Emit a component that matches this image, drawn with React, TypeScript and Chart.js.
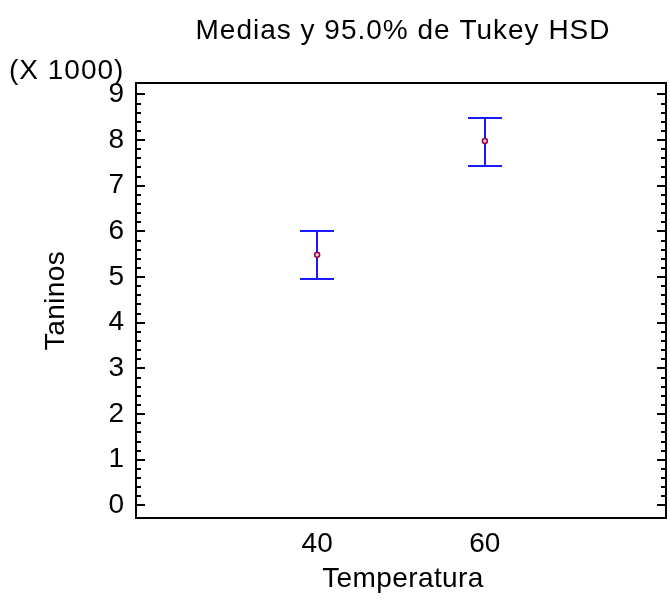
import React, { useEffect, useRef } from "react";
import { Chart, registerables } from "chart.js";

Chart.register(...registerables);

// ---- data ----
const categories = [40, 60];
const means = [5490, 7980];
const lowerLimits = [4950, 7440];
const upperLimits = [6020, 8480];
const yMajorTicks = [0, 1000, 2000, 3000, 4000, 5000, 6000, 7000, 8000, 9000];
const xTickValues = [40, 60];
const titleText = "Medias y 95.0% de Tukey HSD";
const yScaleNote = "(X 1000)";
const xTitleText = "Temperatura";
const yTitleText = "Taninos";

const FONT = "'Liberation Sans', Arial, Helvetica, sans-serif";
const FONT_SIZE = 28;

const decorPlugin = {
  id: "decor",
  beforeDatasetsDraw(chart: any) {
    const { ctx, scales } = chart;
    const x = scales.x;
    const y = scales.y;
    ctx.save();
    ctx.strokeStyle = "#1a1aff";
    ctx.lineWidth = 2;
    categories.forEach((c, i) => {
      const px = Math.round(x.getPixelForValue(c));
      const top = Math.round(y.getPixelForValue(upperLimits[i]));
      const bot = Math.round(y.getPixelForValue(lowerLimits[i]));
      ctx.beginPath();
      ctx.moveTo(px, top);
      ctx.lineTo(px, bot);
      ctx.moveTo(px - 17, top);
      ctx.lineTo(px + 17, top);
      ctx.moveTo(px - 17, bot);
      ctx.lineTo(px + 17, bot);
      ctx.stroke();
    });
    ctx.restore();
  },
  afterDraw(chart: any) {
    const { ctx, chartArea, scales } = chart;
    const y = scales.y;
    const { left, right, top, bottom } = chartArea;
    ctx.save();
    // frame
    ctx.strokeStyle = "#000";
    ctx.lineWidth = 2;
    ctx.strokeRect(left, top, right - left, bottom - top);
    // y ticks (inward, both sides)
    const minorStep = 200;
    const last = yMajorTicks[yMajorTicks.length - 1];
    ctx.beginPath();
    for (let v = yMajorTicks[0]; v <= last + 1e-6; v += minorStep) {
      const isMajor = yMajorTicks.indexOf(v) >= 0;
      const len = isMajor ? 9 : 5;
      const py = Math.round(y.getPixelForValue(v));
      ctx.moveTo(left, py);
      ctx.lineTo(left + len, py);
      ctx.moveTo(right, py);
      ctx.lineTo(right - len, py);
    }
    ctx.stroke();

    // texts
    ctx.fillStyle = "#000";
    ctx.font = `${FONT_SIZE}px ${FONT}`;
    ctx.textBaseline = "alphabetic";
    (ctx as any).letterSpacing = "1px";
    ctx.textAlign = "center";
    ctx.fillText(titleText, (left + right) / 2 + 2, 39);
    ctx.textAlign = "left";
    ctx.fillText(yScaleNote, 9, 79);
    (ctx as any).letterSpacing = "0.4px";
    ctx.textAlign = "center";
    ctx.fillText(xTitleText, 403, 587);
    ctx.save();
    ctx.translate(64, (top + bottom) / 2);
    ctx.rotate(-Math.PI / 2);
    ctx.textAlign = "center";
    ctx.fillText(yTitleText, 0, 0);
    ctx.restore();
    ctx.restore();
  },
};

export default function App() {
  const canvasRef = useRef<HTMLCanvasElement | null>(null);

  useEffect(() => {
    const canvas = canvasRef.current;
    if (!canvas) return;
    const chart = new Chart(canvas, {
      type: "scatter",
      data: {
        datasets: [
          {
            data: categories.map((c, i) => ({ x: c, y: means[i] })),
            pointRadius: 2.5,
            pointHoverRadius: 2.5,
            borderColor: "#990044",
            backgroundColor: "#f4c6d6",
            borderWidth: 1.5,
          },
        ],
      },
      options: {
        responsive: false,
        animation: false,
        devicePixelRatio: 1,
        layout: { padding: { top: 83, right: 1.5, left: 0, bottom: 0 } },
        plugins: {
          legend: { display: false },
          title: { display: false },
          tooltip: { enabled: false },
        },
        scales: {
          x: {
            type: "linear",
            min: 18.4,
            max: 81.6,
            grid: { display: false, drawTicks: false },
            border: { display: false },
            afterBuildTicks: (scale: any) => {
              scale.ticks = xTickValues.map((v) => ({ value: v }));
            },
            afterFit: (scale: any) => {
              scale.height = 82;
            },
            ticks: {
              color: "#000",
              padding: 9,
              maxRotation: 0,
              autoSkip: false,
              font: { family: FONT, size: FONT_SIZE },
            },
          },
          y: {
            type: "linear",
            min: -275,
            max: 9250,
            grid: { display: false, drawTicks: false },
            border: { display: false },
            afterBuildTicks: (scale: any) => {
              scale.ticks = yMajorTicks.map((v) => ({ value: v }));
            },
            afterFit: (scale: any) => {
              scale.width = 136;
            },
            ticks: {
              color: "#000",
              padding: 12,
              autoSkip: false,
              font: { family: FONT, size: FONT_SIZE },
              callback: (v: any) => String(Number(v) / 1000),
            },
          },
        },
      },
      plugins: [decorPlugin],
    });
    return () => chart.destroy();
  }, []);

  return (
    <div style={{ position: "fixed", left: 0, top: 0, width: 670, height: 600, background: "#fff" }}>
      <canvas ref={canvasRef} width={670} height={600} style={{ display: "block" }} />
    </div>
  );
}
